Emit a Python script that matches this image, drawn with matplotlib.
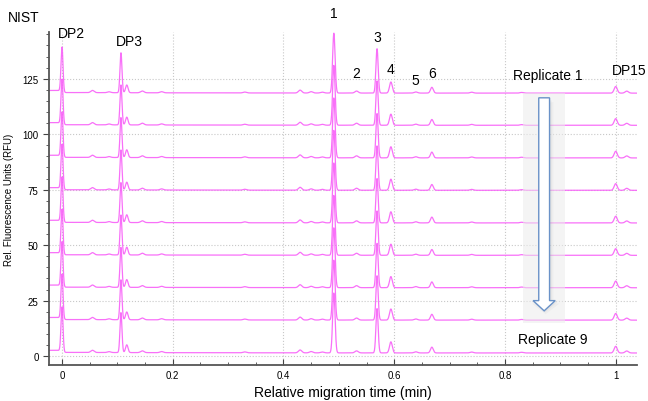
import numpy as np
import matplotlib.pyplot as plt
from matplotlib.patches import FancyArrow, Rectangle
from matplotlib.ticker import MultipleLocator, FuncFormatter

plt.rcParams['font.family'] = ['Liberation Sans', 'DejaVu Sans']

# peak table of one electropherogram: position (rel. time), height (RFU), width (sigma)
peak_pos = [0.0, 0.055, 0.085, 0.1065, 0.117, 0.145, 0.18, 0.33, 0.43, 0.45, 0.47,
            0.491, 0.532, 0.569, 0.594, 0.639, 0.668, 0.74, 0.83, 1.0, 1.02]
peak_height = [20.5, 1.0, 0.4, 18.0, 3.5, 0.8, 0.5, 0.4, 1.3, 0.6, 0.4,
               27.0, 0.9, 20.0, 5.0, 0.5, 2.6, 0.4, 0.3, 3.0, 0.9]
peak_sigma = [0.0018, 0.003, 0.003, 0.0018, 0.0022, 0.003, 0.003, 0.003, 0.003, 0.003, 0.003,
              0.0022, 0.003, 0.002, 0.0025, 0.003, 0.0025, 0.003, 0.003, 0.0028, 0.003]

# vertical offset of each replicate trace (Replicate 1 on top)
replicate_offset = [118.5, 104.0, 89.3, 74.7, 60.0, 45.4, 30.8, 16.2, 1.4]

# text labels: text, x, y
peak_labels = [("DP2", 0.017, 145.5), ("DP3", 0.122, 142.0), ("1", 0.491, 154.5),
               ("2", 0.532, 127.5), ("3", 0.569, 144.0), ("4", 0.594, 129.5),
               ("5", 0.638, 124.5), ("6", 0.668, 127.5), ("DP15", 1.024, 129.0)]

t = np.linspace(-0.025, 1.04, 4000)

def trace(t):
    y = np.where(t < -0.002, 0.9, 0.0) + 0.3 * np.exp(-(t + 0.02) / 0.3)
    for p, h, s in zip(peak_pos, peak_height, peak_sigma):
        y = y + h * np.exp(-0.5 * ((t - p) / s) ** 2)
    return y

fig = plt.figure(figsize=(6.48, 4.02), dpi=100)
ax = fig.add_axes([0.0756, 0.0896, 0.907, 0.828])

base = trace(t)
for off in replicate_offset:
    ax.plot(t, base + off, color='#f860f8', lw=0.9, alpha=0.9)

ax.set_xlim(-0.0235, 1.038)
ax.set_ylim(-4, 146)

ax.xaxis.set_major_locator(MultipleLocator(0.2))
ax.xaxis.set_minor_locator(MultipleLocator(0.05))
ax.yaxis.set_major_locator(MultipleLocator(25))
ax.yaxis.set_minor_locator(MultipleLocator(5))
ax.xaxis.set_major_formatter(FuncFormatter(lambda v, p: "%g" % round(v, 2)))
ax.grid(True, which='major', color='#c8c8c8', linestyle=':', linewidth=0.8)
ax.tick_params(axis='x', which='both', direction='in', labelsize=7, color='#444444')
ax.tick_params(axis='y', which='both', direction='out', labelsize=7, color='#444444')
ax.tick_params(which='major', length=4)
ax.tick_params(which='minor', length=2)

for s in ['top', 'right']:
    ax.spines[s].set_visible(False)
for s in ['left', 'bottom']:
    ax.spines[s].set_color('#555555')
    ax.spines[s].set_linewidth(1.3)

ax.set_xlabel("Relative migration time (min)", fontsize=10, labelpad=4)
ax.set_ylabel("Rel. Fluorescence Units (RFU)", fontsize=7, labelpad=6)

for txt, x, y in peak_labels:
    ax.text(x, y, txt, fontsize=10, ha='center', va='center', clip_on=False)

ax.text(0.877, 126.5, "Replicate 1", fontsize=10, ha='center', va='center')
ax.text(0.886, 7.5, "Replicate 9", fontsize=10, ha='center', va='center')
fig.text(0.012, 0.955, "NIST", fontsize=10, ha='left', va='center')

# shaded band, soft shadow and down arrow
ax.add_patch(Rectangle((0.833, 15.0), 0.0755, 103.5, facecolor='#ececec',
                       edgecolor='none', alpha=0.55, zorder=3))
for k, a in enumerate([0.10, 0.08, 0.06]):
    ax.add_patch(FancyArrow(0.8715 + 0.001 * k, 116.0 - 0.8 * k, 0, -95.5,
                            width=0.020 + 0.004 * k, head_width=0.042 + 0.004 * k,
                            head_length=4.8, length_includes_head=True,
                            facecolor='#808080', edgecolor='none', alpha=a, zorder=3.5))
ax.add_patch(FancyArrow(0.8708, 116.4, 0, -96.0, width=0.0195, head_width=0.040,
                        head_length=4.6, length_includes_head=True,
                        facecolor='white', edgecolor='#6a92c8', lw=1.0, zorder=4))

plt.savefig("out.png", dpi=100)
